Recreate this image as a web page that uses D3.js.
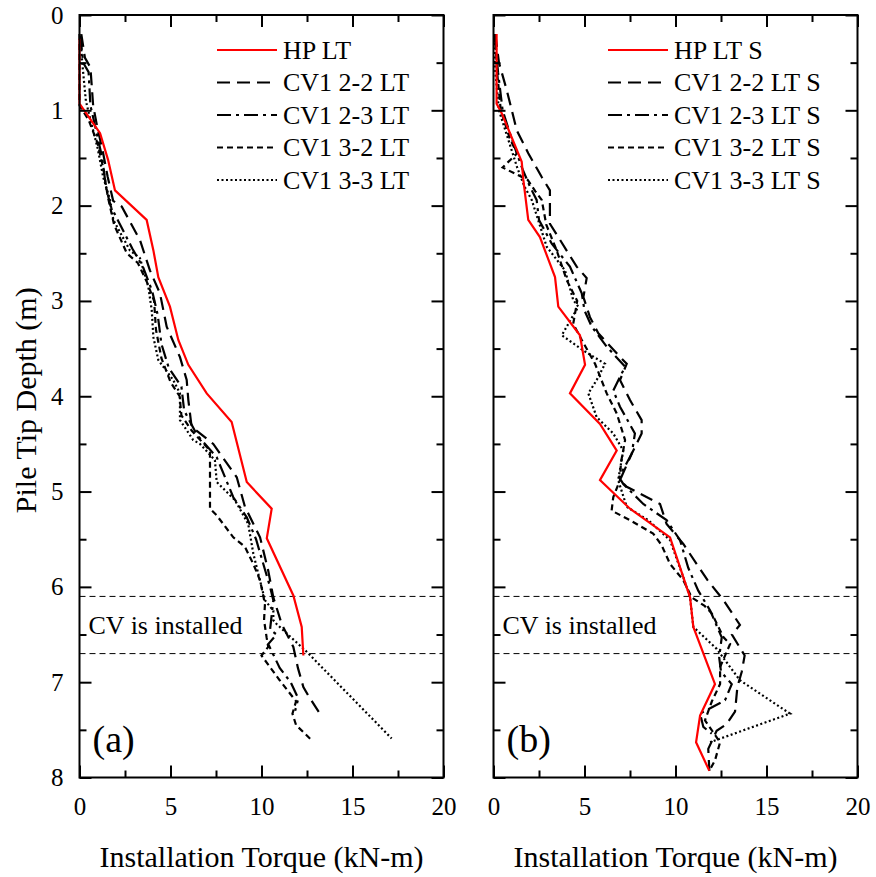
<!DOCTYPE html>
<html><head><meta charset="utf-8">
<script src="https://cdn.jsdelivr.net/npm/d3@7"></script>
<style>
html,body{margin:0;padding:0;background:#fff;}
svg text{font-family:"Liberation Serif","Times New Roman",serif;fill:#000;}
</style></head>
<body>
<svg id="c" width="876" height="877"></svg>
<script>
// ---------- data: [torque kN-m, depth m] ----------
const hpLT = [[0,0.25],[0,0.93],[1.13,1.24],[1.57,1.52],[1.95,1.84],[3.69,2.15],[4.06,2.47],[4.33,2.75],[4.97,3.06],[5.43,3.41],[5.98,3.67],[6.99,3.97],[8.36,4.27],[9.19,4.9],[10.56,5.18],[10.29,5.49],[11.75,6.09],[12.21,6.42],[12.3,6.72]];
const cv22LT = [[0.1,0.2],[0.3,0.45],[0.6,0.55],[0.75,0.95],[0.95,1.15],[1.3,1.45],[1.55,1.7],[1.85,1.95],[2.32,2.01],[3.32,2.36],[3.87,2.68],[4.42,2.92],[4.79,3.27],[5.52,3.59],[5.89,3.83],[5.98,4.04],[6.16,4.32],[7.35,4.5],[8.64,4.85],[9.09,5.16],[9.92,5.48],[10.37,5.83],[10.65,6.11],[11.11,6.39],[11.75,6.63],[12.0,6.85],[12.3,7.05],[12.6,7.15],[13.21,7.33]];
const cv23LT = [[0.05,0.22],[0.2,0.5],[0.5,0.6],[0.6,0.95],[0.9,1.2],[1.25,1.5],[1.45,1.8],[1.7,2.0],[2.1,2.15],[2.9,2.45],[3.5,2.65],[4.0,2.9],[4.3,3.15],[4.5,3.45],[4.9,3.7],[5.6,3.9],[5.75,4.15],[6.44,4.4],[7.54,4.64],[8.45,5.06],[9.19,5.27],[9.7,5.5],[10.1,5.76],[10.47,6.0],[10.65,6.14],[10.47,6.45],[10.83,6.5],[10.37,6.6],[11.0,6.85],[11.6,7.0],[12.02,7.17],[11.85,7.3]];
const cv32LT = [[0,0.2],[0,0.95],[0.5,1.1],[1.0,1.35],[1.3,1.6],[1.55,1.9],[1.9,2.2],[2.6,2.5],[3.2,2.6],[3.7,2.8],[4.1,3.0],[4.2,3.3],[4.5,3.6],[5.0,3.85],[5.5,4.0],[5.6,4.2],[6.16,4.36],[7.17,4.57],[7.17,5.18],[7.54,5.25],[8.45,5.48],[9.09,5.58],[9.55,5.76],[9.92,5.93],[10.19,6.18],[10.14,6.35],[10.28,6.53],[10.37,6.63],[10.0,6.72],[11.0,6.98],[11.9,7.2],[11.7,7.33],[11.9,7.45],[12.76,7.61]];
const cv33LT = [[0.05,0.22],[0.15,0.5],[0.35,0.9],[0.6,1.1],[1.0,1.4],[1.3,1.7],[1.68,1.94],[1.86,2.15],[2.77,2.47],[3.32,2.55],[3.78,2.85],[3.97,3.1],[4.06,3.38],[4.33,3.62],[5.15,3.83],[5.52,3.97],[5.52,4.25],[6.25,4.46],[6.62,4.5],[7.44,4.67],[7.54,4.9],[8.54,5.09],[9.27,5.34],[9.55,5.65],[9.82,5.86],[10.19,6.14],[10.65,6.25],[10.65,6.35],[10.83,6.39],[12.48,6.68],[17.15,7.59]];

const hpLTS = [[0.17,0.2],[0.17,0.93],[0.45,1.03],[1.55,1.54],[1.64,1.73],[1.91,2.15],[2.55,2.33],[3.38,2.75],[3.56,3.06],[4.75,3.36],[5.03,3.67],[4.2,3.97],[5.85,4.29],[6.77,4.57],[5.85,4.88],[7.5,5.18],[9.7,5.48],[10.8,6.11],[10.98,6.42],[12.17,7.02],[11.35,7.35],[11.13,7.63],[11.86,7.93]];
const cv22LTS = [[0.1,0.2],[0.3,0.5],[0.73,0.79],[1.28,1.21],[1.91,1.45],[2.65,1.7],[3.1,1.84],[3.1,2.19],[3.56,2.33],[4.57,2.64],[5.12,2.76],[4.94,2.96],[5.3,3.17],[5.76,3.34],[6.77,3.55],[7.32,3.66],[6.95,3.83],[7.5,4.04],[8.14,4.25],[8.14,4.39],[7.6,4.6],[6.95,4.88],[7.32,4.95],[9.15,5.13],[9.51,5.34],[10.43,5.55],[11.76,5.93],[12.64,6.14],[13.54,6.4],[13.1,6.5],[13.8,6.72],[13.64,6.89],[13.4,7.05],[13.27,7.31],[12.8,7.44],[12.26,7.51],[11.8,7.7],[11.86,7.93]];
const cv23LTS = [[0.05,0.2],[0.25,0.6],[0.5,1.0],[1.0,1.3],[1.6,1.62],[2.0,1.8],[2.37,1.94],[2.5,2.15],[3.2,2.4],[4.2,2.64],[4.85,2.92],[5.0,3.1],[5.4,3.27],[6.22,3.48],[7.23,3.69],[6.58,3.94],[6.95,4.11],[7.77,4.39],[7.6,4.6],[6.9,4.85],[7.13,4.92],[8.23,5.13],[9.51,5.3],[10.25,5.51],[10.7,5.8],[11.25,6.04],[11.91,6.25],[12.54,6.53],[12.4,6.74],[12.5,6.89],[13.09,7.02],[12.72,7.19],[11.35,7.33],[11.53,7.47],[11.99,7.54]];
const cv32LTS = [[0.1,0.2],[0.2,0.6],[0.4,1.0],[0.9,1.3],[1.3,1.45],[0.5,1.6],[1.88,1.73],[2.3,1.85],[2.65,1.94],[2.9,2.2],[3.47,2.47],[4.02,2.78],[4.6,3.0],[4.38,3.24],[4.85,3.41],[5.58,3.66],[6.22,3.97],[6.77,4.18],[7.23,4.46],[7.0,4.7],[6.95,4.88],[6.58,5.06],[6.49,5.2],[7.5,5.3],[8.77,5.44],[9.23,5.56],[9.7,5.76],[10.43,5.93],[10.89,6.11],[11.6,6.2],[12.0,6.28],[12.64,6.53],[13.0,6.6],[12.45,6.84],[12.45,7.02],[12.0,7.2],[11.62,7.4],[12.45,7.63],[12.17,7.82],[11.86,7.93]];
const cv33LTS = [[0.05,0.2],[0.1,0.6],[0.3,1.0],[0.8,1.3],[1.3,1.6],[1.7,1.8],[2.1,1.94],[2.92,2.43],[3.93,2.68],[4.38,2.99],[4.66,3.06],[3.75,3.36],[4.94,3.52],[6.13,3.66],[5.67,3.83],[5.21,3.97],[5.67,4.22],[6.58,4.39],[7.13,4.57],[6.85,4.88],[7.32,5.16],[8.5,5.3],[9.7,5.51],[10.43,5.9],[10.8,6.11],[10.98,6.42],[12.26,6.65],[13.54,6.98],[16.29,7.33],[11.9,7.63]];

const namesA = ["HP LT","CV1 2-2 LT","CV1 2-3 LT","CV1 3-2 LT","CV1 3-3 LT"];
const namesB = ["HP LT S","CV1 2-2 LT S","CV1 2-3 LT S","CV1 3-2 LT S","CV1 3-3 LT S"];
const seriesA = [hpLT, cv22LT, cv23LT, cv32LT, cv33LT];
const seriesB = [hpLTS, cv22LTS, cv23LTS, cv32LTS, cv33LTS];
const cvLines = [6.1, 6.7];
const xMajor = [0,5,10,15,20];
const xMinor = [2.5,7.5,12.5,17.5];
const yMajor = [0,1,2,3,4,5,6,7,8];
const yMinor = [0.5,1.5,2.5,3.5,4.5,5.5,6.5,7.5];

// ---------- styles ----------
const styles = [
  {stroke:"#ff0000", dash:null},
  {stroke:"#000", dash:"13,7"},
  {stroke:"#000", dash:"14,5,3,5"},
  {stroke:"#000", dash:"6,4"},
  {stroke:"#000", dash:"2,2.5"}
];

const svg = d3.select("#c");
const plotTop = 15, plotBot = 777.5;
const y = d3.scaleLinear().domain([0,8]).range([plotTop,plotBot]);

function panel(left, right, series, names, label, showY, legX){
  const x = d3.scaleLinear().domain([0,20]).range([left,right]);
  const g = svg.append("g");
  const line = d3.line().x(d=>x(d[0])).y(d=>y(d[1]));

  cvLines.forEach(v=>{
    g.append("line").attr("x1",left).attr("x2",right).attr("y1",y(v)).attr("y2",y(v))
      .attr("stroke","#000").attr("stroke-width",1).attr("stroke-dasharray","6,4");
  });
  g.append("text").attr("x",left+9).attr("y",y(6.4)+9).attr("font-size",26).text("CV is installed");

  [1,2,3,4,0].forEach(i=>{
    g.append("path").datum(series[i]).attr("d",line).attr("fill","none")
      .attr("stroke",styles[i].stroke).attr("stroke-width",2.2)
      .attr("stroke-dasharray",styles[i].dash).attr("stroke-linejoin","miter");
  });

  const ax = (axis, tr)=>{ const a = g.append("g").attr("transform",tr).call(axis);
    a.select(".domain").remove(); a.selectAll("line").attr("stroke","#000").attr("stroke-width",2);
    a.selectAll("text").attr("font-family","Liberation Serif").attr("font-size",25).attr("fill","#000"); return a; };
  ax(d3.axisBottom(x).tickValues(xMajor).tickSize(-12).tickPadding(20).tickFormat(d3.format("d")), `translate(0,${plotBot})`);
  ax(d3.axisBottom(x).tickValues(xMinor).tickSize(-7).tickFormat(""), `translate(0,${plotBot})`);
  ax(d3.axisTop(x).tickValues(xMajor).tickSize(-12).tickFormat(""), `translate(0,${plotTop})`);
  ax(d3.axisTop(x).tickValues(xMinor).tickSize(-7).tickFormat(""), `translate(0,${plotTop})`);
  ax(d3.axisLeft(y).tickValues(yMajor).tickSize(-12).tickPadding(16).tickFormat(showY?d3.format("d"):""), `translate(${left},0)`);
  ax(d3.axisLeft(y).tickValues(yMinor).tickSize(-7).tickFormat(""), `translate(${left},0)`);
  ax(d3.axisRight(y).tickValues(yMajor).tickSize(-12).tickFormat(""), `translate(${right},0)`);
  ax(d3.axisRight(y).tickValues(yMinor).tickSize(-7).tickFormat(""), `translate(${right},0)`);

  g.append("rect").attr("x",left).attr("y",plotTop).attr("width",right-left).attr("height",plotBot-plotTop)
    .attr("fill","none").attr("stroke","#000").attr("stroke-width",2);

  g.append("text").attr("x",(left+right)/2).attr("y",867).attr("text-anchor","middle")
    .attr("font-size",30).text("Installation Torque (kN-m)");

  g.append("text").attr("x",left+13).attr("y",752).attr("font-size",38).text(label);

  names.forEach((n,i)=>{
    const ly = 50 + i*32.5;
    g.append("line").attr("x1",legX).attr("x2",legX+60).attr("y1",ly).attr("y2",ly)
      .attr("stroke",styles[i].stroke).attr("stroke-width",2).attr("stroke-dasharray",styles[i].dash);
    g.append("text").attr("x",legX+66).attr("y",ly+8.5).attr("font-size",26).text(n);
  });
}

panel(79.5, 443.5, seriesA, namesA, "(a)", true, 217);
panel(493.5, 857.5, seriesB, namesB, "(b)", false, 608);

svg.append("text").attr("transform",`translate(36,${(plotTop+plotBot)/2+4}) rotate(-90)`)
  .attr("text-anchor","middle").attr("font-size",30).text("Pile Tip Depth (m)");
</script>
</body></html>
